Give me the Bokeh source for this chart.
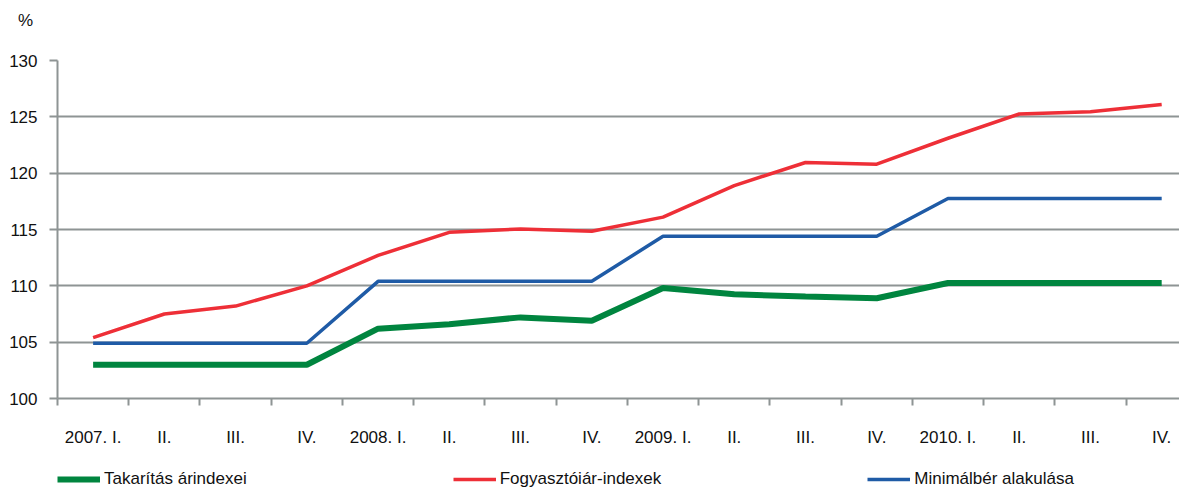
from bokeh.plotting import figure
from bokeh.layouts import column
from bokeh.models import Range1d, FixedTicker, Legend, LegendItem, Label
from bokeh.embed import file_html
from bokeh.resources import INLINE

quarters = ["2007. I.", "II.", "III.", "IV.", "2008. I.", "II.", "III.", "IV.",
            "2009. I.", "II.", "III.", "IV.", "2010. I.", "II.", "III.", "IV."]
takaritas = [103.0, 103.0, 103.0, 103.0, 106.2, 106.6, 107.2, 106.9,
             109.8, 109.25, 109.05, 108.9, 110.25, 110.25, 110.25, 110.25]
fogyasztoi = [105.4, 107.5, 108.2, 110.0, 112.7, 114.75, 115.05, 114.85,
              116.1, 118.9, 120.95, 120.8, 123.1, 125.25, 125.45, 126.1]
minimalber = [104.9, 104.9, 104.9, 104.9, 110.4, 110.4, 110.4, 110.4,
              114.4, 114.4, 114.4, 114.4, 117.75, 117.75, 117.75, 117.75]
y_ticks = [100, 105, 110, 115, 120, 125, 130]
names = ["Takarítás árindexei", "Fogyasztóiár-indexek", "Minimálbér alakulása"]

FONT = "Liberation Sans"
GRID = "#8e9494"
GREEN = "#00853f"
RED = "#ee2f37"
BLUE = "#1f5ba6"
TXT = "#111111"

xs = list(range(len(quarters)))

# top strip holding the unit label
top = figure(width=1179, height=48, output_backend="svg", toolbar_location=None,
             x_range=Range1d(0, 1), y_range=Range1d(0, 1), min_border=0)
top.frame_align = False
top.axis.visible = False
top.grid.visible = False
top.outline_line_color = None
top.add_layout(Label(x=25, y=28, x_units="screen", y_units="screen", text="%",
                     text_align="center", text_baseline="middle",
                     text_font=FONT, text_font_size="17px", text_color=TXT))

p = figure(width=1179, height=401, output_backend="svg", toolbar_location=None,
           x_range=Range1d(-0.5, 15.25), y_range=Range1d(100, 130),
           min_border_left=57, min_border_right=0, min_border_top=12,
           min_border_bottom=49)
p.outline_line_color = None
p.background_fill_color = "white"
p.border_fill_color = "white"

p.xgrid.visible = False
p.ygrid.grid_line_color = GRID
p.ygrid.grid_line_width = 2
p.ygrid.ticker = FixedTicker(ticks=y_ticks)

# y axis
p.yaxis.ticker = FixedTicker(ticks=y_ticks)
p.yaxis.axis_line_color = GRID
p.yaxis.axis_line_width = 2
p.yaxis.major_tick_line_color = GRID
p.yaxis.major_tick_line_width = 2
p.yaxis.major_tick_out = 8
p.yaxis.major_tick_in = 0
p.yaxis.minor_tick_line_color = None
p.yaxis.major_label_standoff = 12
p.yaxis.major_label_text_font = FONT
p.yaxis.major_label_text_font_size = "17px"
p.yaxis.major_label_text_color = TXT

# x axis: labels at centers, ticks at boundaries
p.xaxis.ticker = FixedTicker(ticks=xs, minor_ticks=[i - 0.5 for i in range(17)])
p.xaxis.major_label_overrides = {i: q for i, q in enumerate(quarters)}
p.xaxis.axis_line_color = GRID
p.xaxis.axis_line_width = 2
p.xaxis.major_tick_line_color = None
p.xaxis.major_tick_out = 0
p.xaxis.major_tick_in = 0
p.xaxis.minor_tick_line_color = GRID
p.xaxis.minor_tick_line_width = 2
p.xaxis.minor_tick_out = 7
p.xaxis.minor_tick_in = 0
p.xaxis.major_label_standoff = 22
p.xaxis.major_label_text_font = FONT
p.xaxis.major_label_text_font_size = "17px"
p.xaxis.major_label_text_color = TXT

p.line(xs, takaritas, line_color=GREEN, line_width=6)
p.line(xs, fogyasztoi, line_color=RED, line_width=3.5)
p.line(xs, minimalber, line_color=BLUE, line_width=3.5)

# legend strip: a second figure whose lines lie outside its view
lg = figure(width=1179, height=40, output_backend="svg", toolbar_location=None,
            x_range=Range1d(100, 101), y_range=Range1d(100, 101),
            min_border=0)
lg.axis.visible = False
lg.grid.visible = False
lg.outline_line_color = None
g1 = lg.line(xs, takaritas, line_color=GREEN, line_width=6)
g2 = lg.line(xs, fogyasztoi, line_color=RED, line_width=3.5)
g3 = lg.line(xs, minimalber, line_color=BLUE, line_width=3.5)

legend = Legend(items=[LegendItem(label=names[0], renderers=[g1]),
                       LegendItem(label=names[1], renderers=[g2]),
                       LegendItem(label=names[2], renderers=[g3])],
                orientation="horizontal", location=(0, 0),
                spacing=206, padding=0, margin=0, glyph_width=43,
                glyph_height=18, label_standoff=4, label_height=18,
                label_text_font=FONT, label_text_font_size="17px",
                label_text_color=TXT,
                background_fill_alpha=0, border_line_color=None)
lg.add_layout(legend, "center")

open("out.html", "w").write(file_html(column(top, p, lg, spacing=0), INLINE))
